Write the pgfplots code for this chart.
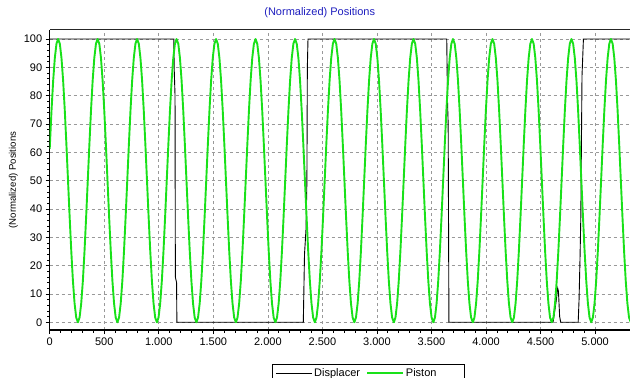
\documentclass[border=0pt]{standalone}
\usepackage{fontspec}
\setmainfont{Liberation Sans}
\usepackage{pgfplots}
\pgfplotsset{compat=1.18}
\definecolor{pgreen}{RGB}{25,225,25}
\definecolor{ttl}{RGB}{30,30,190}
\begin{document}
\begin{tikzpicture}
\begin{axis}[
  name=ax,
  scale only axis, width=580.3pt, height=300pt,
  xmin=0, xmax=5320, ymin=-2.72, ymax=103.18,
  axis x line*=bottom, axis y line*=left,
  axis line style={black, line width=1.6pt, -},
  xtick={0,500,1000,1500,2000,2500,3000,3500,4000,4500,5000},
  xticklabels={0,500,1.000,1.500,2.000,2.500,3.000,3.500,4.000,4.500,5.000},
  ytick={0,10,20,30,40,50,60,70,80,90,100},
  yticklabels={0,10,20,30,40,50,60,70,80,90,100},
  minor x tick num=4, minor y tick num=4,
  tick align=outside,
  major tick length=4pt, minor tick length=2.5pt,
  tick style={black, line width=0.7pt},
  grid=major,
  major grid style={dash pattern=on 3pt off 3pt, color=gray!80, line width=0.7pt},
  ticklabel style={font=\fontsize{11}{13}\selectfont},
  /pgf/number format/assume math mode=true,
  title={(Normalized) Positions},
  title style={font=\fontsize{11}{13}\selectfont, text=ttl, at={([yshift=11.7pt]axis description cs:0.4653,1)}, anchor=center},
  ylabel={(Normalized) Positions},
  ylabel style={font=\fontsize{9.6}{11}\selectfont, at={([xshift=-36.4pt]axis description cs:0,0.5)}, anchor=center},
  legend columns=2,
  legend style={at={(0.3831,-0.1133)}, anchor=north west, draw=black, line width=0.6pt,
    font=\fontsize{11}{13}\selectfont, inner xsep=3pt, inner ysep=2pt,
    /tikz/every even column/.append style={column sep=4pt}},
  legend image code/.code={\draw[#1] (0pt,0pt) -- (36pt,0pt);},
]
\addplot[black, line width=0.9pt] coordinates {
(0,100) (1138,100) (1141,90) (1149,80) (1152,16) (1163,14) (1166,0) (2325,0) (2336,24) (2350,33) (2358,50) (2362,90) (2368,100) (3640,100) (3647,78) (3653,70) (3660,0) (4615,0) (4645,8) (4657,12) (4664,11) (4675,2) (4685,0) (4845,0) (4853,8) (4862,23) (4869,37) (4880,87) (4893,100) (5320,100)
};
\addlegendentry{Displacer}
\addplot[pgreen, line width=1.9pt, line join=round] coordinates {
(0,61.2) (17,75) (32,85.4) (47,93.3) (62,98.3) (77,100) (93,98.3) (108,93.3) (123,85.4) (138,75) (153,62.9) (168,50) (183,37.1) (198,25) (213,14.6) (228,6.7) (243,1.7) (259,0) (274,1.7) (289,6.7) (304,14.6) (319,25) (334,37.1)
(349,50) (364,62.9) (379,75) (394,85.4) (409,93.3) (424,98.3) (439,100) (455,98.3) (470,93.3) (485,85.4) (500,75) (515,62.9) (530,50) (545,37.1) (560,25) (575,14.6) (590,6.7) (605,1.7) (621,0) (636,1.7) (651,6.7) (666,14.6) (681,25) (696,37.1)
(711,50) (726,62.9) (741,75) (756,85.4) (771,93.3) (786,98.3) (801,100) (817,98.3) (832,93.3) (847,85.4) (862,75) (877,62.9) (892,50) (907,37.1) (922,25) (937,14.6) (952,6.7) (967,1.7) (983,0) (998,1.7) (1013,6.7) (1028,14.6) (1043,25) (1058,37.1)
(1073,50) (1088,62.9) (1103,75) (1118,85.4) (1133,93.3) (1148,98.3) (1163,100) (1179,98.3) (1194,93.3) (1209,85.4) (1224,75) (1239,62.9) (1254,50) (1269,37.1) (1284,25) (1299,14.6) (1314,6.7) (1329,1.7) (1345,0) (1360,1.7) (1375,6.7) (1390,14.6) (1405,25) (1420,37.1)
(1435,50) (1450,62.9) (1465,75) (1480,85.4) (1495,93.3) (1510,98.3) (1525,100) (1541,98.3) (1556,93.3) (1571,85.4) (1586,75) (1601,62.9) (1616,50) (1631,37.1) (1646,25) (1661,14.6) (1676,6.7) (1691,1.7) (1707,0) (1722,1.7) (1737,6.7) (1752,14.6) (1767,25) (1782,37.1)
(1797,50) (1812,62.9) (1827,75) (1842,85.4) (1857,93.3) (1872,98.3) (1887,100) (1903,98.3) (1918,93.3) (1933,85.4) (1948,75) (1963,62.9) (1978,50) (1993,37.1) (2008,25) (2023,14.6) (2038,6.7) (2053,1.7) (2069,0) (2084,1.7) (2099,6.7) (2114,14.6) (2129,25) (2144,37.1)
(2159,50) (2174,62.9) (2189,75) (2204,85.4) (2219,93.3) (2234,98.3) (2249,100) (2265,98.3) (2280,93.3) (2295,85.4) (2310,75) (2325,62.9) (2340,50) (2355,37.1) (2370,25) (2385,14.6) (2400,6.7) (2415,1.7) (2431,0) (2446,1.7) (2461,6.7) (2476,14.6) (2491,25) (2506,37.1)
(2521,50) (2536,62.9) (2551,75) (2566,85.4) (2581,93.3) (2596,98.3) (2611,100) (2627,98.3) (2642,93.3) (2657,85.4) (2672,75) (2687,62.9) (2702,50) (2717,37.1) (2732,25) (2747,14.6) (2762,6.7) (2777,1.7) (2793,0) (2808,1.7) (2823,6.7) (2838,14.6) (2853,25) (2868,37.1)
(2883,50) (2898,62.9) (2913,75) (2928,85.4) (2943,93.3) (2958,98.3) (2973,100) (2989,98.3) (3004,93.3) (3019,85.4) (3034,75) (3049,62.9) (3064,50) (3079,37.1) (3094,25) (3109,14.6) (3124,6.7) (3139,1.7) (3155,0) (3170,1.7) (3185,6.7) (3200,14.6) (3215,25) (3230,37.1)
(3245,50) (3260,62.9) (3275,75) (3290,85.4) (3305,93.3) (3320,98.3) (3335,100) (3351,98.3) (3366,93.3) (3381,85.4) (3396,75) (3411,62.9) (3426,50) (3441,37.1) (3456,25) (3471,14.6) (3486,6.7) (3501,1.7) (3517,0) (3532,1.7) (3547,6.7) (3562,14.6) (3577,25) (3592,37.1)
(3607,50) (3622,62.9) (3637,75) (3652,85.4) (3667,93.3) (3682,98.3) (3697,100) (3713,98.3) (3728,93.3) (3743,85.4) (3758,75) (3773,62.9) (3788,50) (3803,37.1) (3818,25) (3833,14.6) (3848,6.7) (3863,1.7) (3879,0) (3894,1.7) (3909,6.7) (3924,14.6) (3939,25) (3954,37.1)
(3969,50) (3984,62.9) (3999,75) (4014,85.4) (4029,93.3) (4044,98.3) (4059,100) (4075,98.3) (4090,93.3) (4105,85.4) (4120,75) (4135,62.9) (4150,50) (4165,37.1) (4180,25) (4195,14.6) (4210,6.7) (4225,1.7) (4241,0) (4256,1.7) (4271,6.7) (4286,14.6) (4301,25) (4316,37.1)
(4331,50) (4346,62.9) (4361,75) (4376,85.4) (4391,93.3) (4406,98.3) (4421,100) (4437,98.3) (4452,93.3) (4467,85.4) (4482,75) (4497,62.9) (4512,50) (4527,37.1) (4542,25) (4557,14.6) (4572,6.7) (4587,1.7) (4603,0) (4618,1.7) (4633,6.7) (4648,14.6) (4663,25) (4678,37.1)
(4693,50) (4708,62.9) (4723,75) (4738,85.4) (4753,93.3) (4768,98.3) (4783,100) (4799,98.3) (4814,93.3) (4829,85.4) (4844,75) (4859,62.9) (4874,50) (4889,37.1) (4904,25) (4919,14.6) (4934,6.7) (4949,1.7) (4965,0) (4980,1.7) (4995,6.7) (5010,14.6) (5025,25) (5040,37.1)
(5055,50) (5070,62.9) (5085,75) (5100,85.4) (5115,93.3) (5130,98.3) (5145,100) (5161,98.3) (5176,93.3) (5191,85.4) (5206,75) (5221,62.9) (5236,50) (5251,37.1) (5266,25) (5281,14.6) (5296,6.7) (5311,1.7) (5327,0)
};
\addlegendentry{\makebox[53pt][l]{Piston}}
\draw[black!85, line width=1pt] (rel axis cs:0,1) -- (rel axis cs:1,1);
\end{axis}
\pgfresetboundingbox
\path[use as bounding box] ([shift={(-49.7pt,-48pt)}]ax.south west) rectangle ([shift={(0pt,30pt)}]ax.north east);
\end{tikzpicture}
\end{document}
